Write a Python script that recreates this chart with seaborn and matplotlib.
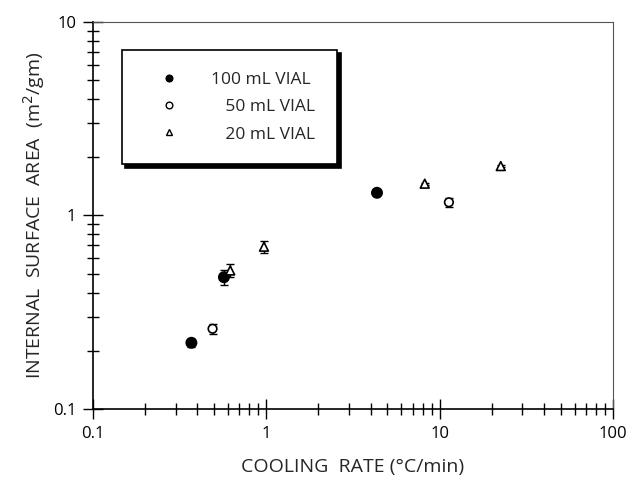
import numpy as np
import pandas as pd
import matplotlib
matplotlib.use('Agg')
import matplotlib.pyplot as plt
from matplotlib.ticker import LogLocator, FixedFormatter, FixedLocator, NullFormatter
import seaborn as sns

# 读图估计的数据
vial_100_rate = [0.37, 0.57, 4.35]
vial_100_area = [0.22, 0.48, 1.31]
vial_100_err = [0.01, 0.04, 0.02]

vial_50_rate = [0.49, 11.3]
vial_50_area = [0.26, 1.17]
vial_50_err = [0.015, 0.06]

vial_20_rate = [0.62, 0.97, 8.2, 22.5]
vial_20_area = [0.52, 0.69, 1.46, 1.80]
vial_20_err = [0.04, 0.05, 0.02, 0.02]

labels = ['100 mL VIAL', '\u2007 50 mL VIAL', '\u2007 20 mL VIAL']

df = pd.DataFrame({
    'rate': vial_100_rate + vial_50_rate + vial_20_rate,
    'area': vial_100_area + vial_50_area + vial_20_area,
    'err': vial_100_err + vial_50_err + vial_20_err,
    'vial': [labels[0]] * 3 + [labels[1]] * 2 + [labels[2]] * 4,
})

sns.set_style('white')
plt.rcParams['font.family'] = ['Open Sans', 'DejaVu Sans']

fig = plt.figure(figsize=(6.36, 4.87), dpi=100)
ax = fig.add_axes([0.146, 0.160, 0.818, 0.795])

# 误差棒
for lab in labels:
    sub = df[df['vial'] == lab]
    ax.errorbar(sub['rate'], sub['area'], yerr=sub['err'], fmt='none',
                ecolor='black', elinewidth=1, capsize=3, capthick=1, zorder=2)

sns.scatterplot(data=df, x='rate', y='area', hue='vial', style='vial',
                hue_order=labels, style_order=labels,
                palette={labels[0]: 'black', labels[1]: 'white', labels[2]: 'white'},
                markers={labels[0]: 'o', labels[1]: 'o', labels[2]: '^'},
                size='vial', sizes={labels[0]: 55, labels[1]: 38, labels[2]: 40},
                edgecolor='black', linewidth=1.2, ax=ax, zorder=3, legend=False)

ax.set_xscale('log')
ax.set_yscale('log')
ax.set_xlim(0.1, 100)
ax.set_ylim(0.1, 10)

ax.xaxis.set_major_locator(FixedLocator([0.1, 1, 10, 100]))
ax.xaxis.set_major_formatter(FixedFormatter(['0.1', '1', '10', '100']))
ax.yaxis.set_major_locator(FixedLocator([0.1, 1, 10]))
ax.yaxis.set_major_formatter(FixedFormatter(['0.1', '1', '10']))
ax.xaxis.set_minor_locator(LogLocator(base=10, subs=np.arange(2, 10)))
ax.yaxis.set_minor_locator(LogLocator(base=10, subs=np.arange(2, 10)))
ax.xaxis.set_minor_formatter(NullFormatter())
ax.yaxis.set_minor_formatter(NullFormatter())

ax.tick_params(axis='both', which='both', bottom=True, left=True, top=False, right=False)
ax.tick_params(axis='both', which='major', direction='inout', length=14, width=1,
               labelsize=12, colors='black', pad=5)
ax.tick_params(axis='both', which='minor', direction='inout', length=9, width=1, colors='black')

for s in ['left', 'bottom']:
    ax.spines[s].set_color('black')
    ax.spines[s].set_linewidth(1.2)
for s in ['top', 'right']:
    ax.spines[s].set_color('#555555')
    ax.spines[s].set_linewidth(0.8)

ax.set_xlabel('COOLING  RATE (°C/min)', fontsize=14, labelpad=12)
ax.set_ylabel('INTERNAL  SURFACE  AREA  (m$^2$/gm)', fontsize=14, labelpad=4)

# 图例
handles = [
    plt.Line2D([], [], marker='o', linestyle='none', markerfacecolor='black',
               markeredgecolor='black', markersize=4.8),
    plt.Line2D([], [], marker='o', linestyle='none', markerfacecolor='white',
               markeredgecolor='black', markersize=4.8),
    plt.Line2D([], [], marker='^', linestyle='none', markerfacecolor='white',
               markeredgecolor='black', markersize=4.8),
]
leg = ax.legend(handles, labels, loc='upper left', bbox_to_anchor=(0.056, 0.928),
                borderaxespad=0, frameon=True, fancybox=False, fontsize=12.5,
                handletextpad=1.0, labelspacing=0.65, borderpad=1.25, handlelength=2.9,
                shadow={'color': 'black', 'alpha': 1, 'ox': 2.5, 'oy': -2.5})
leg.get_frame().set_edgecolor('black')
leg.get_frame().set_linewidth(1.2)

fig.savefig('out.png', dpi=100)
